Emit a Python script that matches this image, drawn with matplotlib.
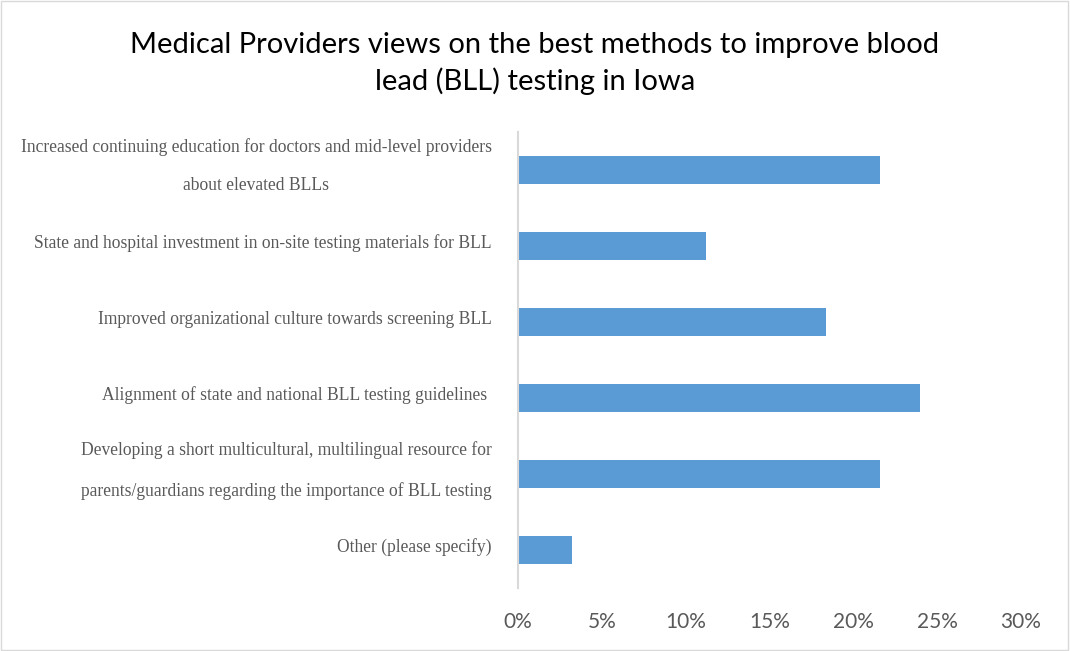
import matplotlib.pyplot as plt
from matplotlib.patches import Rectangle
from matplotlib.ticker import PercentFormatter
from matplotlib.transforms import ScaledTranslation

categories = [
    "Increased continuing education for doctors and mid-level providers\nabout elevated BLLs",
    "State and hospital investment in on-site testing materials for BLL",
    "Improved organizational culture towards screening BLL",
    "Alignment of state and national BLL testing guidelines ",
    "Developing a short multicultural, multilingual resource for\nparents/guardians regarding the importance of BLL testing",
    "Other (please specify)",
]
shares = [21.6, 11.2, 18.4, 24.0, 21.6, 3.2]
x_ticks = [0, 5, 10, 15, 20, 25, 30]

title = "Medical Providers views on the best methods to improve blood\nlead (BLL) testing in Iowa"

fig = plt.figure(figsize=(10.70, 6.51), dpi=100)
ax = fig.add_axes([0.4841, 0.0968, 0.4701, 0.7004])

y = list(range(len(categories)))
ax.barh(y, shares, height=0.36, color="#5B9BD5", zorder=2)

ax.set_ylim(len(categories) - 0.5, -0.5)
ax.set_xlim(0, 30)
ax.set_xticks(x_ticks)
ax.xaxis.set_major_formatter(PercentFormatter(decimals=0))
ax.set_yticks(y)
ax.set_yticklabels(categories, family="Liberation Serif", fontsize=12.65,
                   color="#595959", linespacing=2.6, multialignment="center")
ax.tick_params(axis="y", length=0, pad=19)
ax.tick_params(axis="x", length=0, pad=17, labelsize=15, labelcolor="#595959")
for lbl in ax.get_xticklabels():
    lbl.set_family("Lato")

# nudge category labels up a little; two-line ones need more
for lbl in ax.get_yticklabels():
    dy = 0.165 if "\n" in lbl.get_text() else 0.05
    lbl.set_transform(lbl.get_transform() + ScaledTranslation(0, dy, fig.dpi_scale_trans))

for side in ["top", "right", "bottom"]:
    ax.spines[side].set_visible(False)
ax.spines["left"].set_color("#D9D9D9")
ax.spines["left"].set_linewidth(1.5)

fig.text(0.5, 0.902, title, ha="center", va="center", family="Lato",
         fontsize=21, color="black", linespacing=1.4)

# thin frame around the whole chart
fig.patches.append(Rectangle((0.0005, 0.0008), 0.998, 0.998, transform=fig.transFigure,
                             fill=False, edgecolor="#D9D9D9", linewidth=1))

fig.savefig("out.png", dpi=100)
